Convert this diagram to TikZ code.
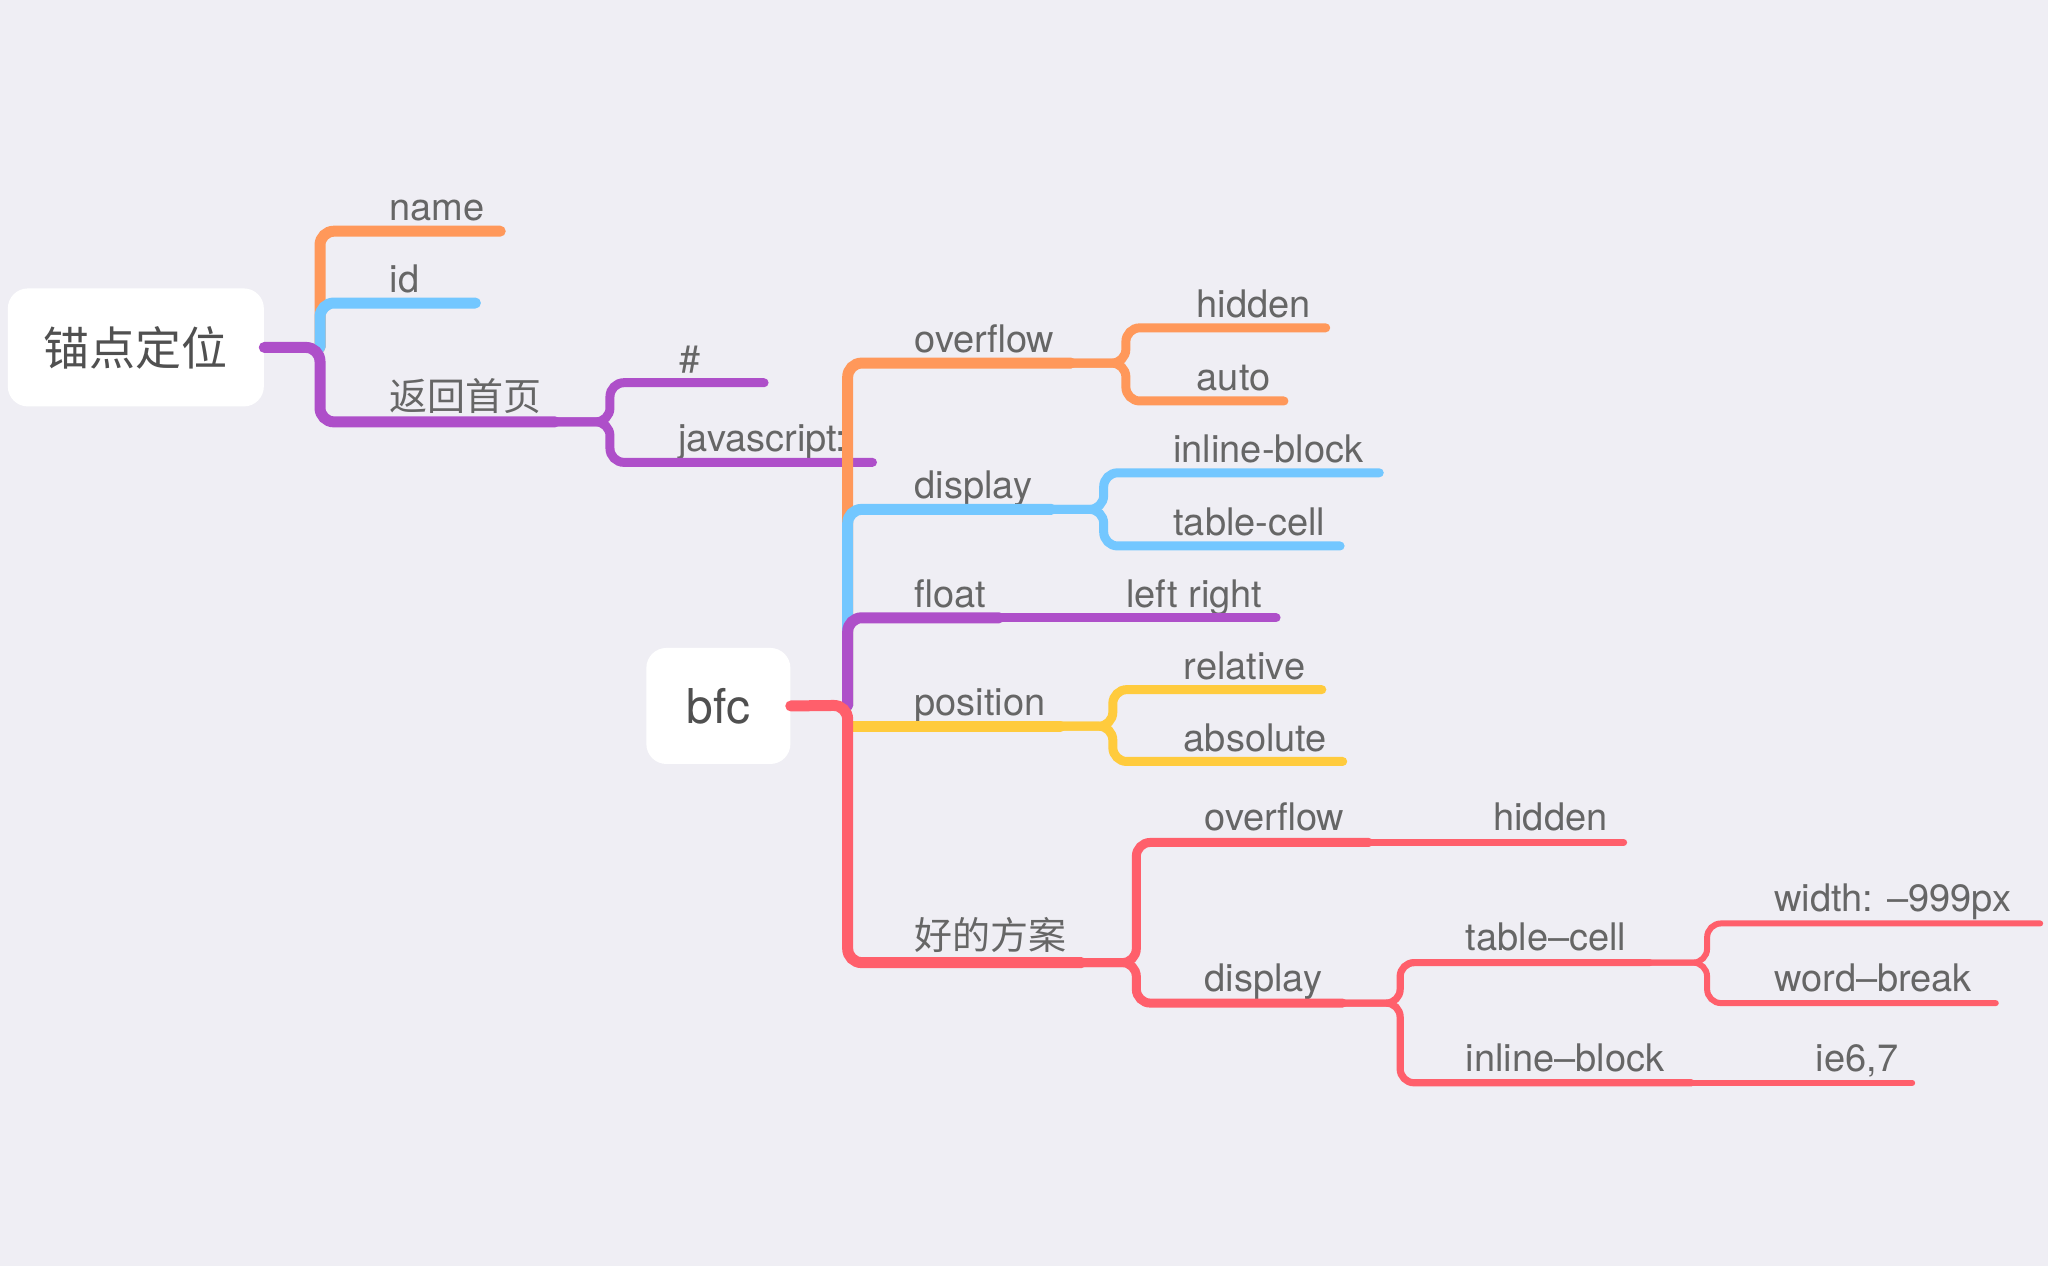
\documentclass[tikz,border=0pt]{standalone}
\usepackage{fontspec}
\setmainfont{TeX Gyre Heros}
\newfontfamily\cjk{Noto Sans CJK SC}
\definecolor{bgc}{HTML}{EFEEF4}
\definecolor{txtgray}{HTML}{666666}
\definecolor{txtdark}{HTML}{505050}
\definecolor{corange}{HTML}{FF985A}
\definecolor{cblue}{HTML}{73C7FF}
\definecolor{cpurple}{HTML}{AE4FC9}
\definecolor{cyellow}{HTML}{FFCB3D}
\definecolor{cred}{HTML}{FF5F6B}
\begin{document}
\begin{tikzpicture}[x=0.653pt,y=-0.653pt,
  lbl/.style={anchor=base west, inner sep=0pt, text=txtgray, font=\fontsize{19}{21}\selectfont},
  topbox/.style={fill=white, rounded corners=10pt, text=txtdark, inner sep=0pt},
  br/.style={line cap=round, rounded corners=7pt},
  la/.style={line width=5.5pt},
  lb/.style={line width=4.5pt},
  lc/.style={line width=3.6pt},
  ld/.style={line width=3pt}]
\fill[bgc] (0,0) rectangle (1568,969);
\useasboundingbox (0,0) rectangle (1568,969);

% ---------- root 锚点定位 ----------
\node[topbox, minimum width=128pt, minimum height=59pt, font=\cjk\fontsize{23}{25}\selectfont] (root) at (104,266) {锚点定位};
\node[lbl] (t-name) at (298,169) {name};
\node[lbl] (t-id) at (298,224) {id};
\node[lbl, font=\cjk\fontsize{19}{21}\selectfont] (t-back) at (298,314) {返回首页};
\node[lbl] (t-hash) at (520,285) {\#};
\node[lbl] (t-js) at (519,346) {javascript:};

\coordinate (j-root) at (245,266);
\coordinate (e-name) at (383,177);
\coordinate (e-id) at (364,232);
\coordinate (e-back) at (425,323);
\coordinate (e-hash) at (585,293);
\coordinate (e-js) at (668,354);

\draw[br,la,corange] (j-root) |- (e-name);
\draw[br,la,cblue] (j-root) |- (e-id);
\draw[br,la,cpurple] (root.east) -- (j-root) |- (e-back);
\draw[br,lb,cpurple] (e-back) -- ++(42,0) |- (e-hash);
\draw[br,lb,cpurple] (e-back) -- ++(42,0) |- (e-js);

% ---------- bfc ----------
\node[topbox, minimum width=72pt, minimum height=58pt, font=\fontsize{24}{26}\selectfont] (bfc) at (550,540.5) {bfc};
\node[lbl] (t-ov) at (700,270) {overflow};
\node[lbl] (t-hid) at (916,243) {hidden};
\node[lbl] (t-auto) at (916,299) {auto};
\node[lbl] (t-disp) at (700,382) {display};
\node[lbl] (t-ib) at (898,354) {inline-block};
\node[lbl] (t-tc) at (898,410) {table-cell};
\node[lbl] (t-float) at (700,465) {float};
\node[lbl] (t-lr) at (862,465) {left right};
\node[lbl] (t-pos) at (700,548) {position};
\node[lbl] (t-rel) at (906,520) {relative};
\node[lbl] (t-abs) at (906,575) {absolute};
\node[lbl, font=\cjk\fontsize{19}{21}\selectfont] (t-good) at (700,727) {好的方案};
\node[lbl] (t-ov2) at (922,636) {overflow};
\node[lbl] (t-hid2) at (1143,636) {hidden};
\node[lbl] (t-disp2) at (922,759) {display};
\node[lbl] (t-tc2) at (1122,728) {table–cell};
\node[lbl] (t-w) at (1358,698) {width: –999px};
\node[lbl] (t-wb) at (1358,759) {word–break};
\node[lbl] (t-ib2) at (1122,820) {inline–block};
\node[lbl] (t-ie) at (1390,820) {ie6,7};

\coordinate (j-bfc) at (649,540);
\coordinate (e-ov) at (820,278);
\coordinate (e-hid) at (1015,251);
\coordinate (e-auto) at (983,307);
\coordinate (e-disp) at (805,390);
\coordinate (e-ib) at (1056,362);
\coordinate (e-tc) at (1026,418);
\coordinate (e-float) at (765,473);
\coordinate (e-lr) at (977,473);
\coordinate (e-pos) at (812,556);
\coordinate (e-rel) at (1012,528);
\coordinate (e-abs) at (1028,583);
\coordinate (e-good) at (828,737);
\coordinate (e-ov2) at (1048,645);
\coordinate (e-hid2) at (1243,645);
\coordinate (e-disp2) at (1028,768);
\coordinate (e-tc2) at (1263,737);
\coordinate (e-w) at (1562,707);
\coordinate (e-wb) at (1528,768);
\coordinate (e-ib2) at (1295,829);
\coordinate (e-ie) at (1464,829);

\draw[br,la,corange] (j-bfc) |- (e-ov);
\draw[br,lb,corange] (e-ov) -- ++(42,0) |- (e-hid);
\draw[br,lb,corange] (e-ov) -- ++(42,0) |- (e-auto);
\draw[br,la,cblue] (j-bfc) |- (e-disp);
\draw[br,lb,cblue] (e-disp) -- ++(40,0) |- (e-ib);
\draw[br,lb,cblue] (e-disp) -- ++(40,0) |- (e-tc);
\draw[br,la,cpurple] (j-bfc) |- (e-float);
\draw[br,lb,cpurple] (e-float) -- (e-lr);
\draw[la,cyellow,line cap=round] (j-bfc |- e-pos) -- (e-pos);
\draw[br,lb,cyellow] (e-pos) -- ++(40,0) |- (e-rel);
\draw[br,lb,cyellow] (e-pos) -- ++(40,0) |- (e-abs);
\draw[br,la,cred] (bfc.east) -- (j-bfc) |- (e-good);
\draw[br,lb,cred] (e-good) -- ++(42,0) |- (e-ov2);
\draw[br,lc,cred] (e-ov2) -- (e-hid2);
\draw[br,lb,cred] (e-good) -- ++(42,0) |- (e-disp2);
\draw[br,lc,cred] (e-disp2) -- ++(44,0) |- (e-tc2);
\draw[br,ld,cred] (e-tc2) -- ++(44,0) |- (e-w);
\draw[br,ld,cred] (e-tc2) -- ++(44,0) |- (e-wb);
\draw[br,lc,cred] (e-disp2) -- ++(44,0) |- (e-ib2);
\draw[br,ld,cred] (e-ib2) -- (e-ie);
\end{tikzpicture}
\end{document}
